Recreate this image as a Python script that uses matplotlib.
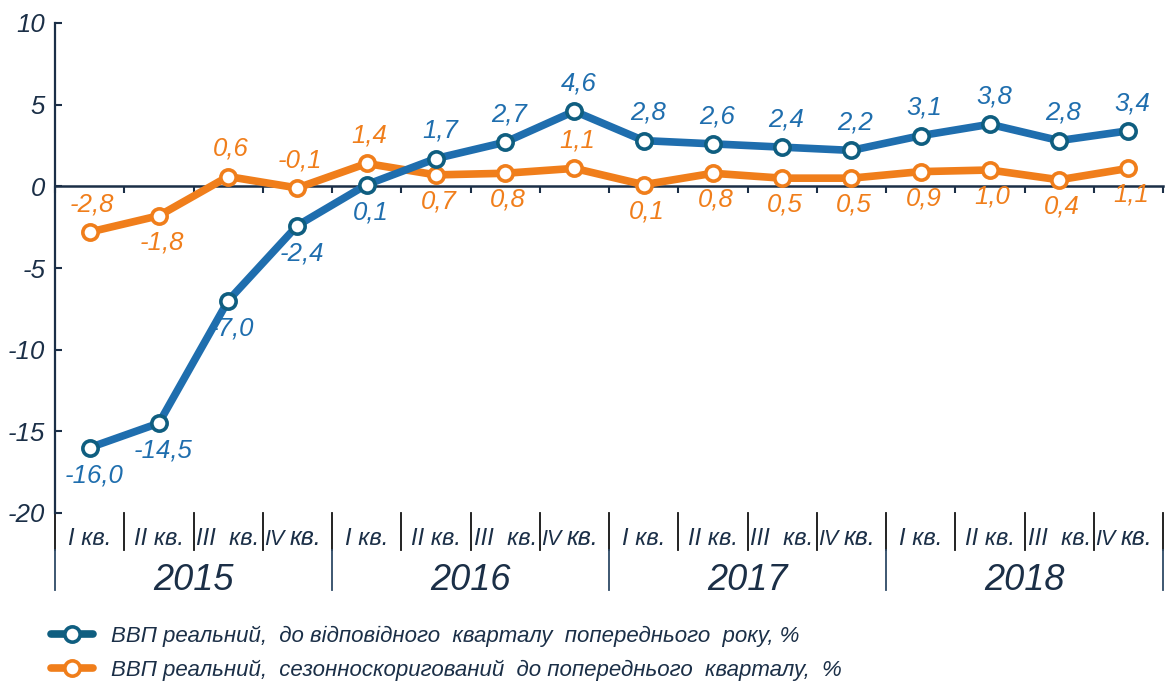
import matplotlib
matplotlib.use("Agg")
import matplotlib.pyplot as plt
from matplotlib.lines import Line2D

plt.rcParams['font.family'] = ['Liberation Sans', 'DejaVu Sans']

quarters = ["I кв.", "II кв.", "III  кв.", "IV кв."]
years = ["2015", "2016", "2017", "2018"]
yoy = [-16.0, -14.5, -7.0, -2.4, 0.1, 1.7, 2.7, 4.6, 2.8, 2.6, 2.4, 2.2, 3.1, 3.8, 2.8, 3.4]
qoq = [-2.8, -1.8, 0.6, -0.1, 1.4, 0.7, 0.8, 1.1, 0.1, 0.8, 0.5, 0.5, 0.9, 1.0, 0.4, 1.1]
yoy_pos = ['b', 'b', 'b', 'b', 'b', 'a', 'a', 'a', 'a', 'a', 'a', 'a', 'a', 'a', 'a', 'a']
qoq_pos = ['a', 'b', 'a', 'a', 'a', 'b', 'b', 'a', 'b', 'b', 'b', 'b', 'b', 'b', 'b', 'b']
yticks = [10, 5, 0, -5, -10, -15, -20]
legend_labels = ["ВВП реальний,  до відповідного  кварталу  попереднього  року, %",
                 "ВВП реальний,  сезонноскоригований  до попереднього  кварталу,  %"]

BLUE = "#1F6EAE"
BLUE_EDGE = "#0F5E80"
ORANGE = "#F07E1B"
NAVY = "#1B2F47"

W, H = 1165, 682
fig = plt.figure(figsize=(W / 100, H / 100), dpi=100)
x0, x1, ytop, ybot = 55, 1163, 23, 513
ax = fig.add_axes([x0 / W, 1 - ybot / H, (x1 - x0) / W, (ybot - ytop) / H])

n = len(yoy)
xs = [i + 0.5 for i in range(n)]

ax.plot(xs, qoq, color=ORANGE, lw=5.5, marker='o', ms=11, mfc='white',
        mec=ORANGE, mew=2.6, zorder=3, solid_capstyle='round')
ax.plot(xs, yoy, color=BLUE, lw=5.5, marker='o', ms=11, mfc='white',
        mec=BLUE_EDGE, mew=2.6, zorder=4, solid_capstyle='round')

def fmt(v):
    return f"{v:.1f}".replace('.', ',')

for x, v, p in zip(xs, yoy, yoy_pos):
    dy = 20 if p == 'a' else -20
    ax.annotate(fmt(v), (x, v), xytext=(3, dy), textcoords='offset points',
                ha='center', va='center', fontsize=18.5, style='italic', color=BLUE, zorder=5)
for x, v, p in zip(xs, qoq, qoq_pos):
    dy = 20 if p == 'a' else -19
    ax.annotate(fmt(v), (x, v), xytext=(2, dy), textcoords='offset points',
                ha='center', va='center', fontsize=18.5, style='italic', color=ORANGE, zorder=5)

ax.set_xlim(0, n)
ax.set_ylim(-20, 10)
ax.set_yticks(yticks)
ax.set_yticklabels([str(t) for t in yticks], fontsize=18.5, style='italic', color=NAVY)
ax.tick_params(axis='y', direction='in', length=5, width=1.5, color=NAVY, pad=7)

for s in ['top', 'right']:
    ax.spines[s].set_visible(False)
ax.spines['left'].set_color(NAVY)
ax.spines['left'].set_linewidth(1.6)
ax.spines['bottom'].set_position(('data', 0))
ax.spines['bottom'].set_color(NAVY)
ax.spines['bottom'].set_linewidth(1.8)
ax.set_xticks(range(0, n + 1))
ax.set_xticklabels([])
ax.tick_params(axis='x', direction='out', length=5, width=1.5, color=NAVY)

tr = ax.get_xaxis_transform()
hq = (550 - ybot) / (ybot - ytop)
hy = (590 - ybot) / (ybot - ytop)
for i in range(n + 1):
    ax.plot([i, i], [0, -hq], transform=tr, color='#111111', lw=1.3, clip_on=False)
    if i % 4 == 0:
        ax.plot([i, i], [-hq, -hy], transform=tr, color='#2E4A66', lw=1.3, clip_on=False)

yq = -(545 - ybot) / (ybot - ytop)
yy = -(580 - ybot) / (ybot - ytop)
for i in range(n):
    q = quarters[i % 4]
    if q.startswith("IV"):
        roman, rest = q.split(" ", 1)
        ax.annotate(roman, (i + 0.5, yq), xycoords=tr, xytext=(-9, 0), textcoords='offset points',
                    ha='right', va='baseline', fontsize=15.5, style='italic', color=NAVY,
                    annotation_clip=False)
        ax.annotate(rest, (i + 0.5, yq), xycoords=tr, xytext=(-5.5, 0), textcoords='offset points',
                    ha='left', va='baseline', fontsize=18, style='italic', color=NAVY,
                    annotation_clip=False)
    else:
        ax.text(i + 0.5, yq, q, transform=tr, ha='center', va='baseline',
                fontsize=17, style='italic', color=NAVY)
for k, yr in enumerate(years):
    ax.text(4 * k + 2, yy, yr, transform=tr, ha='center', va='center',
            fontsize=26, style='italic', color=NAVY)

handles = [Line2D([], [], color=BLUE_EDGE, lw=5.5, marker='o', ms=11, mfc='white', mec=BLUE_EDGE, mew=2.6,
                  solid_capstyle='round'),
           Line2D([], [], color=ORANGE, lw=5.5, marker='o', ms=11, mfc='white', mec=ORANGE, mew=2.6,
                  solid_capstyle='round')]
leg = fig.legend(handles, legend_labels, loc='upper left', bbox_to_anchor=(42 / W, 1 - 617 / H),
                 frameon=False, fontsize=16, handlelength=1.9, handletextpad=0.8, labelspacing=0.55,
                 borderaxespad=0)
for t in leg.get_texts():
    t.set_style('italic')
    t.set_color(NAVY)

fig.savefig("out.png", dpi=100)
